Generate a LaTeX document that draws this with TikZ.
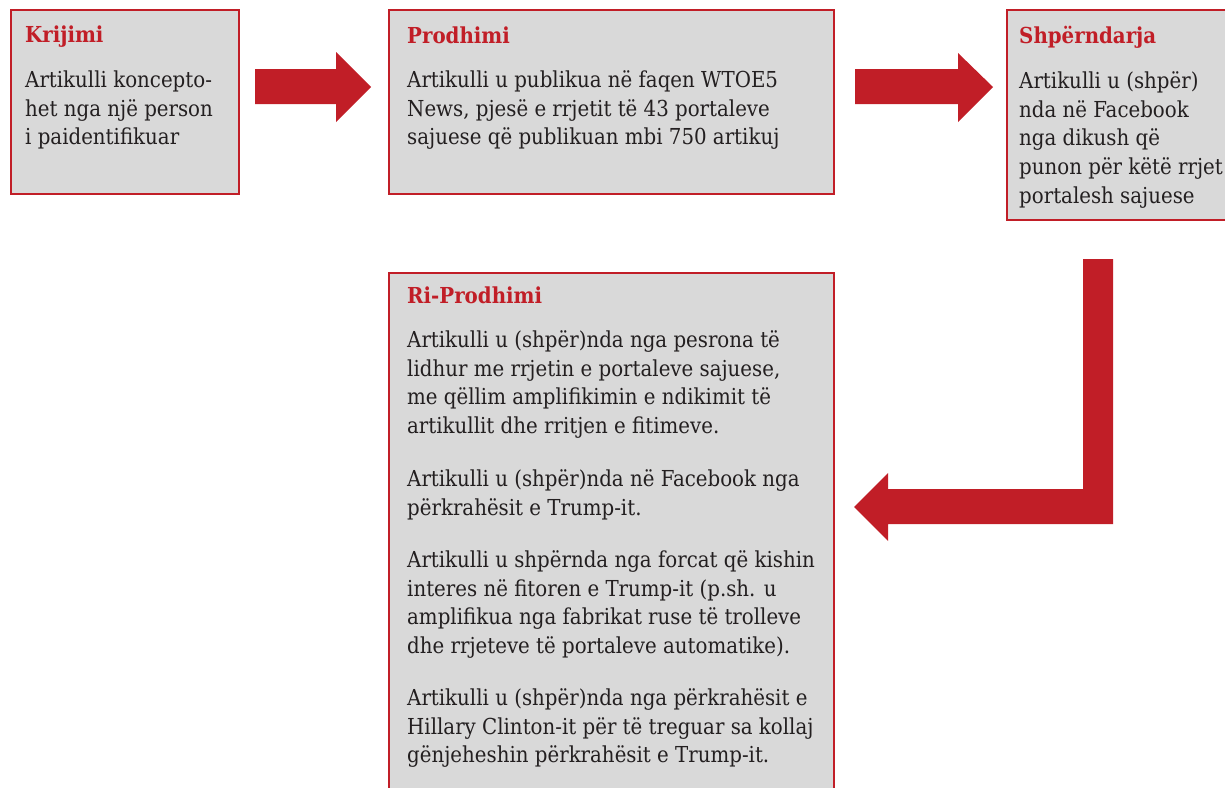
\documentclass[tikz,border=0pt]{standalone}
\usepackage{fontspec}
\setmainfont{DejaVu Serif Condensed}
\definecolor{redc}{RGB}{193,30,39}
\definecolor{boxfill}{RGB}{217,217,217}
\definecolor{txt}{RGB}{35,31,32}
\newcommand{\topstrut}{\rule{0pt}{20pt}}
\begin{document}
\begin{tikzpicture}[x=1pt,y=-1pt,
  panel/.style={draw=redc, line width=1.5pt, fill=boxfill, anchor=north west, inner sep=0pt},
  ttl/.style={anchor=base west, inner sep=0pt, text=redc, font=\fontsize{22}{26}\selectfont\bfseries},
  body/.style={anchor=north west, inner sep=0pt, text=txt, align=left, font=\fontsize{22}{28.8}\selectfont},
  blockarrow/.style={fill=redc, draw=none}]
\useasboundingbox (0,0) rectangle (1225,787);
\clip (0,0) rectangle (1225,787);
% boxes
\node[panel, minimum width=228pt, minimum height=184pt] (krijimi) at (10,9) {};
\node[panel, minimum width=445pt, minimum height=184pt] (prodhimi) at (388,9) {};
\node[panel, minimum width=240pt, minimum height=210pt] (shperndarja) at (1006,9) {};
\node[panel, minimum width=445pt, minimum height=540pt] (riprodhimi) at (388,272) {};
% texts (body nodes: top = first baseline - 20)
\node[ttl] (t1) at (25,42) {Krijimi};
\node[body] (b1) at (25,67) {\topstrut Artikulli koncepto-\\het nga një person\\i paidentifikuar};
\node[ttl] (t2) at (407,43) {Prodhimi};
\node[body] (b2) at (407,67) {\topstrut Artikulli u publikua në faqen WTOE5\\News, pjesë e rrjetit të 43 portaleve\\sajuese që publikuan mbi 750 artikuj};
\node[ttl] (t3) at (1019,43) {Shpërndarja};
\node[body] (b3) at (1019,68) {\topstrut Artikulli u (shpër)\\nda në Facebook\\nga dikush që\\punon për këtë rrjet\\portalesh sajuese};
\node[ttl] (t4) at (407,303) {Ri-Prodhimi};
\node[body] (b4a) at (407,327) {\topstrut Artikulli u (shpër)nda nga pesrona të\\lidhur me rrjetin e portaleve sajuese,\\me qëllim amplifikimin e ndikimit të\\artikullit dhe rritjen e fitimeve.};
\node[body] (b4b) at (407,466) {\topstrut Artikulli u (shpër)nda në Facebook nga\\përkrahësit e Trump-it.};
\node[body] (b4c) at (407,547) {\topstrut Artikulli u shpërnda nga forcat që kishin\\interes në fitoren e Trump-it (p.sh. u\\amplifikua nga fabrikat ruse të trolleve\\dhe rrjeteve të portaleve automatike).};
\node[body] (b4d) at (407,685) {\topstrut Artikulli u (shpër)nda nga përkrahësit e\\Hillary Clinton-it për të treguar sa kollaj\\gënjeheshin përkrahësit e Trump-it.};
% arrows
\fill[blockarrow] (255,69) -- (336,69) -- (336,52) -- (371,87) -- (336,122) -- (336,104) -- (255,104) -- cycle;
\fill[blockarrow] (855,69) -- (958,69) -- (958,53) -- (993,87) -- (958,122) -- (958,104) -- (855,104) -- cycle;
\fill[blockarrow] (1083,259) -- (1113,259) -- (1113,524) -- (888,524) -- (888,541) -- (854,507) -- (888,473) -- (888,489) -- (1083,489) -- cycle;
\end{tikzpicture}
\end{document}
